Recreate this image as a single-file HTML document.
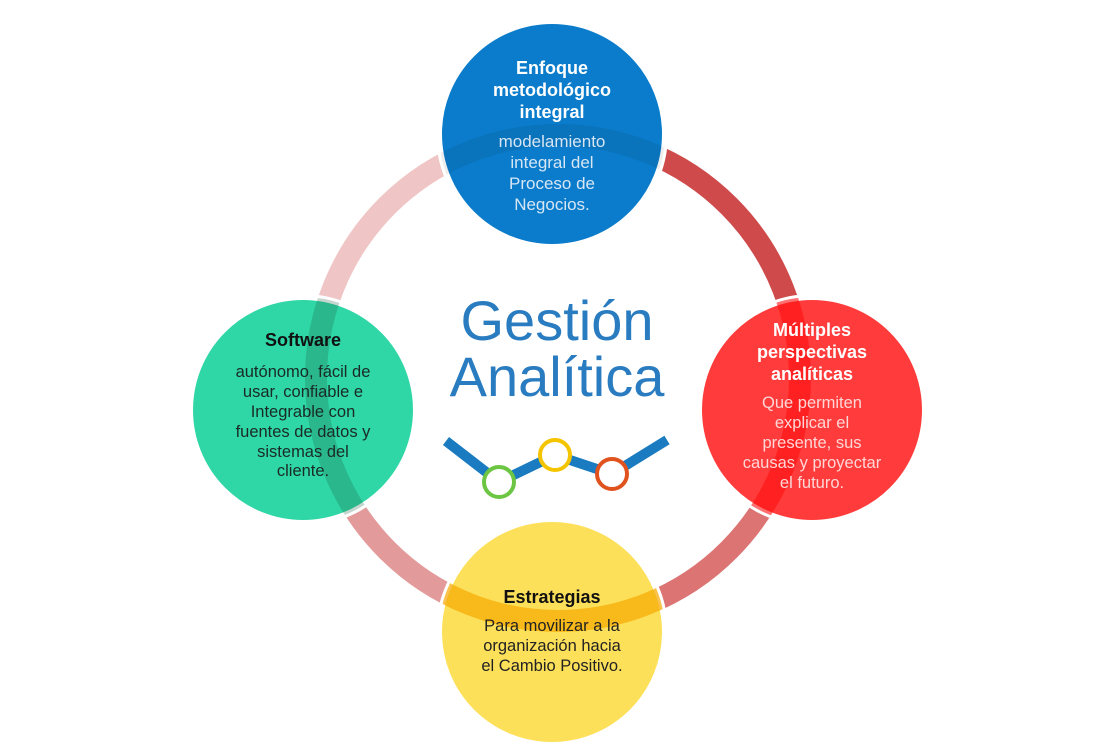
<!DOCTYPE html>
<html><head><meta charset="utf-8"><style>
html,body{margin:0;padding:0;background:#fff;}
svg{display:block;}
text{font-family:"Liberation Sans",sans-serif;text-anchor:middle;}
</style></head><body>
<svg width="1113" height="752" viewBox="0 0 1113 752" xmlns="http://www.w3.org/2000/svg">
<defs>
<clipPath id="cT"><circle cx="552" cy="134" r="113"/></clipPath>
<clipPath id="cL"><circle cx="303" cy="410" r="113"/></clipPath>
<clipPath id="cR"><circle cx="812" cy="410" r="113"/></clipPath>
<clipPath id="cB"><circle cx="552" cy="632" r="113"/></clipPath>
<clipPath id="qTL"><rect x="0" y="0" width="558" height="378"/></clipPath>
<clipPath id="qTR"><rect x="558" y="0" width="600" height="378"/></clipPath>
<clipPath id="qBR"><rect x="558" y="378" width="600" height="400"/></clipPath>
<clipPath id="qBL"><rect x="0" y="378" width="558" height="400"/></clipPath>
</defs>
<g fill="none" stroke-width="22">
<ellipse cx="558" cy="378" rx="242" ry="243" stroke="#efc5c5" clip-path="url(#qTL)"/>
<ellipse cx="558" cy="378" rx="242" ry="243" stroke="#cf4b4b" clip-path="url(#qTR)"/>
<ellipse cx="558" cy="378" rx="242" ry="243" stroke="#dc7474" clip-path="url(#qBR)"/>
<ellipse cx="558" cy="378" rx="242" ry="243" stroke="#e29a9a" clip-path="url(#qBL)"/>
</g>
<g stroke="#fff" stroke-width="6">
<circle cx="552" cy="134" r="113" fill="#0a7ccb"/>
<circle cx="303" cy="410" r="113" fill="#2fd6a6"/>
<circle cx="812" cy="410" r="113" fill="#ff3b3b"/>
<circle cx="552" cy="632" r="113" fill="#fde05a"/>
</g>
<g fill="none" stroke-width="22">
<ellipse cx="558" cy="378" rx="242" ry="243" stroke="#000" stroke-opacity="0.07" clip-path="url(#cT)"/>
<ellipse cx="558" cy="378" rx="242" ry="243" stroke="#1a5a40" stroke-opacity="0.25" clip-path="url(#cL)"/>
<ellipse cx="558" cy="378" rx="242" ry="243" stroke="#ff1010" stroke-opacity="0.6" clip-path="url(#cR)"/>
<ellipse cx="558" cy="378" rx="242" ry="243" stroke="#f5a800" stroke-opacity="0.7" clip-path="url(#cB)"/>
</g>
<text x="552" y="74" font-size="18" font-weight="bold" fill="#fff">Enfoque</text>
<text x="552" y="96" font-size="18" font-weight="bold" fill="#fff">metodológico</text>
<text x="552" y="118" font-size="18" font-weight="bold" fill="#fff">integral</text>
<g font-size="17" fill="#d6e6f5">
<text x="552" y="147">modelamiento</text>
<text x="552" y="168">integral del</text>
<text x="552" y="189">Proceso de</text>
<text x="552" y="210">Negocios.</text>
</g>
<text x="812" y="336" font-size="18" font-weight="bold" fill="#fff">Múltiples</text>
<text x="812" y="358" font-size="18" font-weight="bold" fill="#fff">perspectivas</text>
<text x="812" y="380" font-size="18" font-weight="bold" fill="#fff">analíticas</text>
<g font-size="16.5" fill="#ffd6d6">
<text x="812" y="408">Que permiten</text>
<text x="812" y="428">explicar el</text>
<text x="812" y="448">presente, sus</text>
<text x="812" y="468">causas y proyectar</text>
<text x="812" y="488">el futuro.</text>
</g>
<text x="303" y="346" font-size="18" font-weight="bold" fill="#111">Software</text>
<g font-size="16.5" fill="#1a2a25">
<text x="303" y="377">autónomo, fácil de</text>
<text x="303" y="397">usar, confiable e</text>
<text x="303" y="417">Integrable con</text>
<text x="303" y="437">fuentes de datos y</text>
<text x="303" y="457">sistemas del</text>
<text x="303" y="476">cliente.</text>
</g>
<text x="552" y="603" font-size="18" font-weight="bold" fill="#111">Estrategias</text>
<g font-size="16.5" fill="#222">
<text x="552" y="631">Para movilizar a la</text>
<text x="552" y="651">organización hacia</text>
<text x="552" y="671">el Cambio Positivo.</text>
</g>
<text x="557" y="340" font-size="56" fill="#2a7cc0">Gestión</text>
<text x="557" y="396" font-size="56" fill="#2a7cc0">Analítica</text>
<polyline points="446,441 499,482 555,455 612,474 667,440" fill="none" stroke="#1a7bc0" stroke-width="10"/>
<g fill="#fff" stroke-width="4">
<circle cx="499" cy="482" r="15" stroke="#6cc644"/>
<circle cx="555" cy="455" r="15" stroke="#f5c400"/>
<circle cx="612" cy="474" r="15" stroke="#e0531e"/>
</g>
</svg>
</body></html>
